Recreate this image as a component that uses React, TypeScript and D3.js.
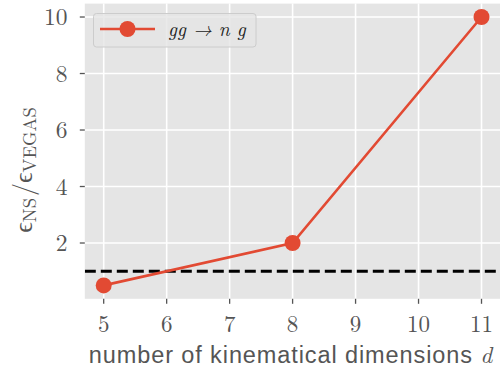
import React from "react";
import * as d3 from "d3";

const dims = [5, 8, 11];
const ratios = [0.5, 2, 10];
const xTicks = [5, 6, 7, 8, 9, 10, 11];
const yTicks = [2, 4, 6, 8, 10];
const refLevel = 1;
const seriesLabel = "gg → n g";

export default function App() {
  const W = 500, H = 370;
  const left = 84.8, right = 500.4, top = 3.6, bottom = 298.8;
  const x = d3.scaleLinear().domain([4.7, 11.3]).range([left, right]);
  const y = d3.scaleLinear().domain([0.025, 10.475]).range([bottom, top]);
  const line = d3.line<number>().x((_, i) => x(dims[i])).y((d) => y(d));
  const red = "#E24A33";
  const tc = "#555555";
  const serif = "'Latin Modern Roman', 'CMU Serif', 'Liberation Serif', 'DejaVu Serif', serif";
  return (
    <svg width={W} height={H} style={{ position: "absolute", left: 0, top: 0 }}>
      <defs>
        <clipPath id="pa">
          <rect x={left} y={top} width={right - left} height={bottom - top} />
        </clipPath>
      </defs>
      <rect x={left} y={top} width={right - left} height={bottom - top} fill="#E5E5E5" />
      {xTicks.map((t) => (
        <line key={"gx" + t} x1={x(t)} x2={x(t)} y1={top} y2={bottom} stroke="#fff" strokeWidth={1.6} />
      ))}
      {yTicks.map((t) => (
        <line key={"gy" + t} x1={left} x2={right} y1={y(t)} y2={y(t)} stroke="#fff" strokeWidth={1.6} />
      ))}
      <g clipPath="url(#pa)">
        <line x1={left} x2={right} y1={y(refLevel)} y2={y(refLevel)} stroke="#000" strokeWidth={3} strokeDasharray="11,5" />
        <path d={line(ratios) || ""} fill="none" stroke={red} strokeWidth={2.6} />
        {ratios.map((v, i) => (
          <circle key={i} cx={x(dims[i])} cy={y(v)} r={8} fill={red} />
        ))}
      </g>
      {xTicks.map((t) => (
        <g key={"tx" + t}>
          <line x1={x(t)} x2={x(t)} y1={bottom} y2={bottom + 5} stroke={tc} strokeWidth={1.3} />
          <text x={x(t)} y={332} textAnchor="middle" fontFamily={serif} fontSize={23} fill={tc}>{t}</text>
        </g>
      ))}
      {yTicks.map((t) => (
        <g key={"ty" + t}>
          <line x1={left - 5} x2={left} y1={y(t)} y2={y(t)} stroke={tc} strokeWidth={1.3} />
          <text x={67.5} y={y(t) + 8.2} textAnchor="end" fontFamily={serif} fontSize={23.5} fill={tc}>{t}</text>
        </g>
      ))}
      <text x={291} y={363} textAnchor="middle" fontFamily="'Liberation Sans', 'DejaVu Sans', sans-serif" fontSize={23.5} letterSpacing={0.9} fill={tc}>
        number of kinematical dimensions <tspan fontFamily={serif} fontStyle="italic">d</tspan>
      </text>
      <text transform="translate(32,170) rotate(-90)" textAnchor="middle" fontFamily={serif} fontSize={26} fill={tc}>
        <tspan>ϵ</tspan>
        <tspan fontSize={18.5} dy={4}>NS</tspan>
        <tspan dy={-4} dx={2}>/</tspan>
        <tspan>ϵ</tspan>
        <tspan fontSize={18.5} dy={4}>VEGAS</tspan>
      </text>
      <rect x={93.5} y={13.5} width={162.5} height={33.5} rx={3} fill="#E5E5E5" fillOpacity={0.8} stroke="#CCCCCC" strokeWidth={1} />
      <line x1={100} x2={155} y1={29} y2={29} stroke={red} strokeWidth={2.6} />
      <circle cx={127.5} cy={29} r={8} fill={red} />
      <text x={168} y={36} fontFamily={serif} fontStyle="italic" fontSize={19.5} fill="#222">{seriesLabel}</text>
    </svg>
  );
}
